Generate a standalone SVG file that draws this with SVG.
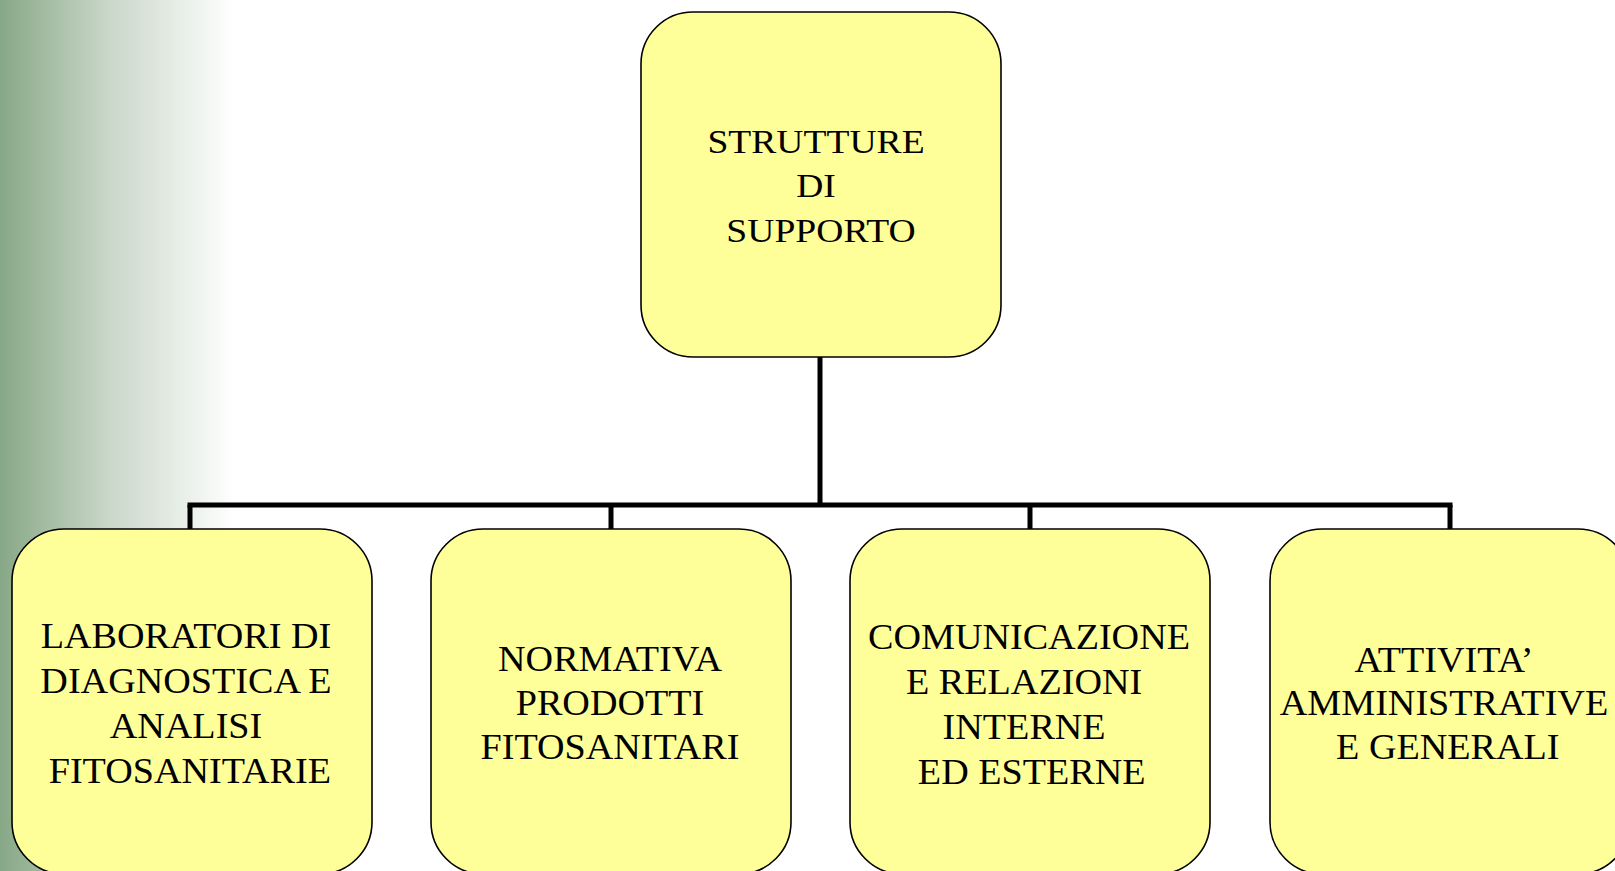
<svg xmlns="http://www.w3.org/2000/svg" width="1615" height="871" viewBox="0 0 1615 871">
<defs>
<linearGradient id="bg" x1="0" y1="0" x2="235" y2="0" gradientUnits="userSpaceOnUse">
<stop offset="0" stop-color="#87a886"/>
<stop offset="0.45" stop-color="#c8d6c8"/>
<stop offset="1" stop-color="#ffffff"/>
</linearGradient>
</defs>
<style>
.box{fill:#ffff99;stroke:#000;stroke-width:1.6}
.lbl{font-family:"Liberation Serif","Times New Roman",serif;font-size:35px;fill:#000;text-anchor:middle}
.top{font-size:34.5px}
.conn{stroke:#000;stroke-width:5;fill:none}
</style>
<rect x="0" y="0" width="1615" height="871" fill="#ffffff"/>
<rect x="0" y="0" width="240" height="871" fill="url(#bg)"/>
<g id="connectors">
<line class="conn" x1="820" y1="357" x2="820" y2="505"/>
<line class="conn" x1="187.5" y1="505" x2="1452.5" y2="505"/>
<line class="conn" x1="190" y1="505" x2="190" y2="530"/>
<line class="conn" x1="611" y1="505" x2="611" y2="530"/>
<line class="conn" x1="1030" y1="505" x2="1030" y2="530"/>
<line class="conn" x1="1450" y1="505" x2="1450" y2="530"/>
</g>
<g id="root">
<rect class="box" x="641" y="12" width="360" height="345" rx="52" ry="52"/>
<text class="lbl top" transform="translate(816,0) scale(1.09,1)"><tspan x="0" y="153">STRUTTURE</tspan></text>
<text class="lbl top" transform="translate(816,0) scale(1.09,1)"><tspan x="0" y="197">DI</tspan></text>
<text class="lbl top" transform="translate(821,0) scale(1.09,1)"><tspan x="0" y="242">SUPPORTO</tspan></text>
</g>
<g id="lab">
<rect class="box" x="12" y="529" width="360" height="345" rx="52" ry="52"/>
<g transform="translate(186,0) scale(1.09,1)">
<text class="lbl" x="0" y="648">LABORATORI DI</text>
<text class="lbl" x="0" y="693">DIAGNOSTICA E</text>
<text class="lbl" x="0" y="738">ANALISI</text>
<text class="lbl" x="3.5" y="783">FITOSANITARIE</text>
</g>
</g>
<g id="normativa">
<rect class="box" x="431" y="529" width="360" height="345" rx="52" ry="52"/>
<g transform="translate(610,0) scale(1.09,1)">
<text class="lbl" x="0" y="671">NORMATIVA</text>
<text class="lbl" x="0" y="715">PRODOTTI</text>
<text class="lbl" x="0" y="759">FITOSANITARI</text>
</g>
</g>
<g id="comunicazione">
<rect class="box" x="850" y="529" width="360" height="345" rx="52" ry="52"/>
<g transform="translate(1029,0) scale(1.09,1)">
<text class="lbl" x="0" y="649">COMUNICAZIONE</text>
<text class="lbl" x="-4.5" y="694">E RELAZIONI</text>
<text class="lbl" x="-4.5" y="739">INTERNE</text>
<text class="lbl" x="2.5" y="784">ED ESTERNE</text>
</g>
</g>
<g id="attivita">
<rect class="box" x="1270" y="529" width="360" height="345" rx="52" ry="52"/>
<g transform="translate(1444,0) scale(1.09,1)">
<text class="lbl" x="0" y="672">ATTIVITA’</text>
<text class="lbl" x="0" y="715">AMMINISTRATIVE</text>
<text class="lbl" x="3.5" y="759">E GENERALI</text>
</g>
</g>
</svg>
